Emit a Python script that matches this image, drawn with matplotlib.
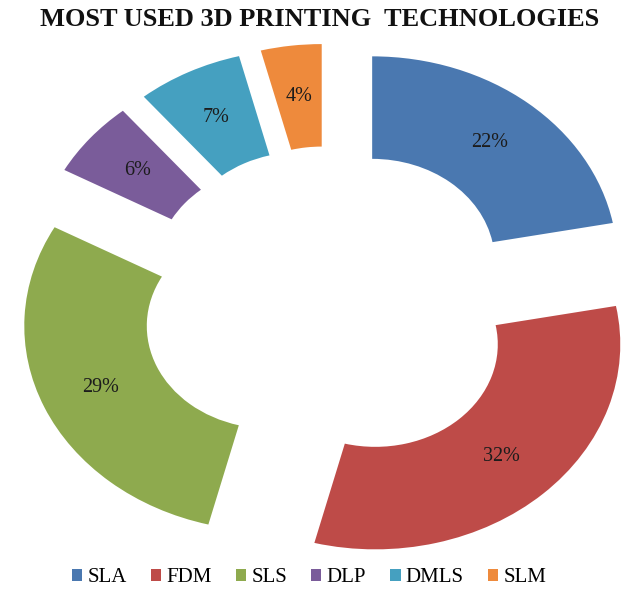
import matplotlib
matplotlib.use("Agg")
import matplotlib.pyplot as plt

technologies = ["SLA", "FDM", "SLS", "DLP", "DMLS", "SLM"]
shares = [22, 32, 29, 6, 7, 4]
colors = ["#4A78B0", "#BE4B48", "#8EAA4E", "#7A5C9A", "#45A0C0", "#EE8A3C"]

serif = "Liberation Serif"

fig = plt.figure(figsize=(6.4, 5.99), dpi=100)
ax = fig.add_axes([0, 0, 1, 1])

wedges, texts, autotexts = ax.pie(
    shares,
    colors=colors,
    startangle=90,
    counterclock=False,
    explode=[0.27] * len(shares),
    autopct="%.0f%%",
    pctdistance=0.75,
    wedgeprops=dict(width=0.5, edgecolor="none"),
    textprops=dict(family=serif, fontsize=14.5, color="#1c1c1c"),
)

# picture is stretched sideways, so let the axes distort the circle
cx, cy = 330, 304
ax.set_aspect("auto")
ax.set_xlim(-cx / 245, (640 - cx) / 245)
ax.set_ylim((cy - 599) / 205, cy / 205)
ax.axis("off")

fig.text(0.5, 1 - 19 / 599, "MOST USED 3D PRINTING  TECHNOLOGIES",
         ha="center", va="center", fontsize=19, fontweight="bold",
         family=serif, color="#111111")

fig.legend(wedges, technologies, loc="center",
           bbox_to_anchor=(309 / 640, 1 - 578 / 599), ncol=6,
           frameon=False, handlelength=0.5, handleheight=0.5,
           handletextpad=0.25, columnspacing=1.15,
           prop=dict(family=serif, size=15))

fig.savefig("out.png", dpi=100)
